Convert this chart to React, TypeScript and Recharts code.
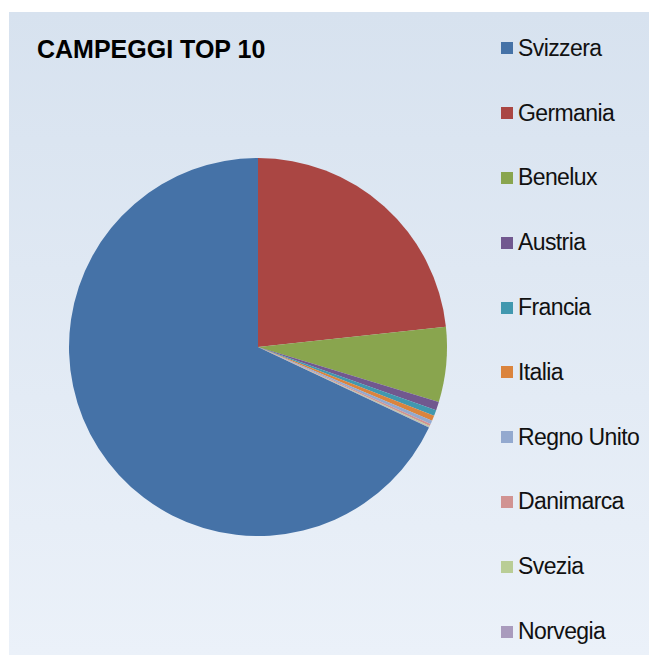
import React from 'react';
import { PieChart, Pie, Cell, Legend } from 'recharts';

// Share of campsite overnight stays by country of origin (%)
const countries = ['Svizzera', 'Germania', 'Benelux', 'Austria', 'Francia', 'Italia', 'Regno Unito', 'Danimarca', 'Svezia', 'Norvegia'];
const shares = [68.0, 23.3, 6.4, 0.72, 0.5, 0.45, 0.3, 0.2, 0.08, 0.05];
const colors = ['#4572A7', '#AA4643', '#89A54E', '#71588F', '#4198AF', '#DB843D', '#93A9CF', '#D19392', '#B9CD96', '#A99BBD'];

const data = countries.map((name, i) => ({ name, value: shares[i] }));

const total = shares.reduce((s, v) => s + v, 0);
// first slice ends at 12 o'clock, drawn clockwise
const startAngle = 90 + (360 * shares[0]) / total;

const FONT = '"Liberation Sans", Arial, sans-serif';

const renderLegend = () => (
  <div style={{ fontFamily: FONT }}>
    {countries.map((name, i) => (
      <div key={name} style={{ height: 64.8, display: 'flex', alignItems: 'center' }}>
        <span style={{ width: 12, height: 12, background: colors[i], display: 'inline-block', marginRight: 5 }} />
        <span style={{ fontSize: 23, letterSpacing: -0.6, color: '#111', lineHeight: '23px' }}>{name}</span>
      </div>
    ))}
  </div>
);

export default function App() {
  return (
    <div style={{ position: 'absolute', left: 0, top: 0, width: 650, height: 655, background: '#fff', overflow: 'hidden' }}>
      <div
        style={{
          position: 'absolute',
          left: 9,
          top: 12,
          width: 640,
          height: 643,
          background: 'linear-gradient(to bottom, #d7e2ef, #ebf1f9)',
        }}
      >
        <div
          style={{
            position: 'absolute',
            left: 28,
            top: 25,
            fontFamily: FONT,
            fontWeight: 'bold',
            fontSize: 25,
            lineHeight: '25px',
            color: '#000',
            zIndex: 2,
          }}
        >
          CAMPEGGI TOP 10
        </div>
        <PieChart width={640} height={643} margin={{ top: 0, right: 0, bottom: 0, left: 0 }}>
          <Pie
            data={data}
            dataKey="value"
            nameKey="name"
            cx={249}
            cy={335}
            outerRadius={189}
            innerRadius={0}
            startAngle={startAngle}
            endAngle={startAngle - 360}
            stroke="none"
            isAnimationActive={false}
          >
            {data.map((entry, i) => (
              <Cell key={`cell-${entry.name}`} fill={colors[i]} />
            ))}
          </Pie>
          <Legend
            content={renderLegend}
            layout="vertical"
            align="right"
            verticalAlign="top"
            wrapperStyle={{ top: 4, left: 492, width: 148 }}
          />
        </PieChart>
      </div>
    </div>
  );
}
